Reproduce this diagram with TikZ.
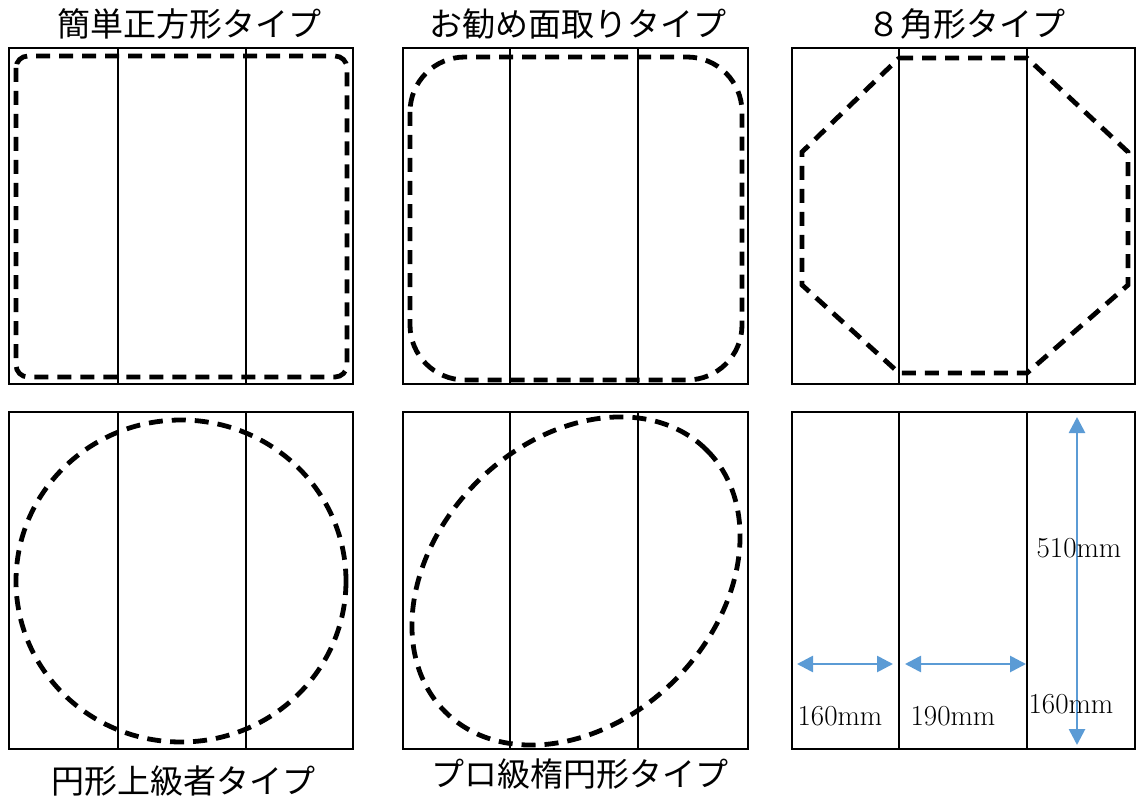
\documentclass[tikz,border=0pt]{standalone}
\usepackage{fontspec}
\newfontfamily\jpfont{Noto Sans CJK JP}
\usetikzlibrary{arrows.meta}
\definecolor{dimblue}{HTML}{5B9BD5}
\begin{document}
\begin{tikzpicture}[x=1pt,y=-1pt,
  frame/.style={line width=2.8pt},
  cut/.style={line width=4.8pt, dash pattern=on 14pt off 9pt},
  title/.style={font=\jpfont\fontsize{33}{38}\selectfont, inner sep=0pt},
  dimarrow/.style={draw=dimblue, line width=2.7pt, {Triangle[length=16pt,width=16pt,fill=dimblue]}-{Triangle[length=16pt,width=16pt,fill=dimblue]}},
  lbl/.style={font=\fontsize{29}{34}\selectfont, inner sep=0pt}]
\useasboundingbox (0,0) rectangle (1137,805);
% titles
\node[title] (t1) at (189,24) {簡単正方形タイプ};
\node[title] (t2) at (578,24) {お勧め面取りタイプ};
\node[title] (t3) at (966,24) {８角形タイプ};
\node[title] (t4) at (183,781) {円形上級者タイプ};
\node[title] (t5) at (580,774) {プロ級楕円形タイプ};
% frames
\foreach \l/\r/\a/\b/\t/\u in {9/353/118/246/48/384, 403/748/510/638/48/384, 792/1135/899/1027/48/384,
  9/353/118/246/412/749, 403/748/510/638/412/749, 792/1135/899/1027/412/749}{
  \draw[frame] (\l,\t) rectangle (\r,\u);
  \draw[frame] (\a,\t) -- (\a,\u);
  \draw[frame] (\b,\t) -- (\b,\u);
}
% dashed cut lines
\draw[cut, rounded corners=12pt] (16,56) rectangle (347,377);
\draw[cut, rounded corners=55pt] (410,57) rectangle (742,380);
\draw[cut] (899,58) -- (1027,58) -- (1128,152) -- (1128,285) -- (1027,373) -- (899,373) -- (802,285) -- (802,152) -- cycle;
\draw[cut] (181,581) ellipse [x radius=165, y radius=161];
\draw[cut, rotate around={45:(576,581)}] (576,581) ellipse [x radius=185, y radius=140];
% dimensions
\coordinate (h1a) at (797,664); \coordinate (h1b) at (893,664);
\coordinate (h2a) at (905,664); \coordinate (h2b) at (1026,664);
\coordinate (v1a) at (1077,417); \coordinate (v1b) at (1077,745);
\draw[dimarrow] (h1a) -- (h1b);
\draw[dimarrow] (h2a) -- (h2b);
\draw[dimarrow] (v1a) -- (v1b);
\node[lbl] (l1) at (840,716) {160mm};
\node[lbl] (l2) at (953,716) {190mm};
\node[lbl] (l3) at (1071,704) {160mm};
\node[lbl] (l4) at (1079,548) {510mm};
\end{tikzpicture}
\end{document}
